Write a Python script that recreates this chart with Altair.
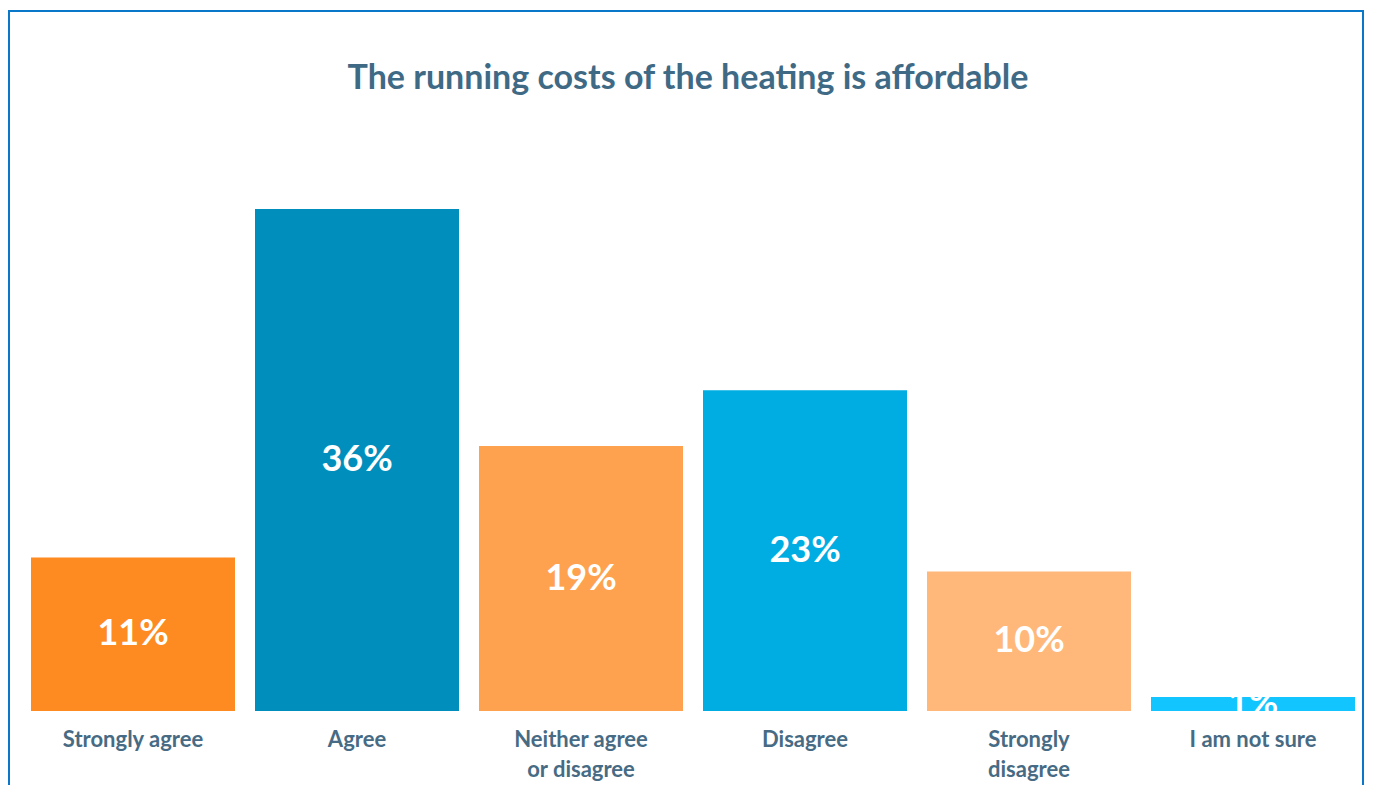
import altair as alt
import pandas as pd

categories = ["Strongly agree", "Agree", "Neither agree\nor disagree", "Disagree", "Strongly\ndisagree", "I am not sure"]
values = [11, 36, 19, 23, 10, 1]
bar_colors = ["#FE8A22", "#008FBC", "#FFA24F", "#00ADE3", "#FFB879", "#12C5FF"]
title_text = ["The running costs of the heating is affordable"]

df = pd.DataFrame({"category": categories, "value": values})

FONT = "Lato"
TITLE_COLOR = "#3F6A86"
LABEL_COLOR = "#476B84"

x_enc = alt.X(
    "category:N",
    sort=categories,
    scale=alt.Scale(paddingInner=20 / 224, paddingOuter=10 / 224),
    axis=alt.Axis(
        title=None, domain=False, ticks=False, grid=False,
        labelExpr="split(datum.label, '\\n')",
        labelFont=FONT, labelFontSize=22, labelFontWeight="bold",
        labelColor=LABEL_COLOR, labelPadding=18, labelLineHeight=30,
        labelAngle=0,
    ),
)
y_scale = alt.Scale(domain=[0, 36], nice=False, zero=True)

bars = alt.Chart(df).mark_bar().encode(
    x=x_enc,
    y=alt.Y("value:Q", scale=y_scale, axis=None),
    color=alt.Color("category:N", sort=categories,
                    scale=alt.Scale(domain=categories, range=bar_colors), legend=None),
)

labels = alt.Chart(df).transform_calculate(
    mid="datum.value / 2", label="datum.value + '%'"
).mark_text(
    font=FONT, fontSize=36, fontWeight="bold", color="white", baseline="middle", align="center"
).encode(
    x=alt.X("category:N", sort=categories),
    y=alt.Y("mid:Q", scale=y_scale),
    text="label:N",
)

title = alt.Chart(pd.DataFrame({"t": title_text})).mark_text(
    font=FONT, fontSize=34, fontWeight="bold", color=TITLE_COLOR, baseline="middle", align="center"
).encode(
    x=alt.value(667), y=alt.value(-130), text="t:N"
)

frame = alt.Chart(pd.DataFrame({"a": [0]})).mark_rect(
    fill=None, fillOpacity=0, stroke="#0A78C8", strokeWidth=2
).encode(
    x=alt.value(-12), x2=alt.value(1342), y=alt.value(-198), y2=alt.value(600)
)

chart = alt.layer(frame, bars, labels, title).properties(
    width=1344, height=502,
    background="white",
    autosize=alt.AutoSizeParams(type="none"),
    padding={"left": 13, "top": 201, "right": 0, "bottom": 74},
).configure_view(stroke="transparent", strokeWidth=0)

chart.save("out.html", embed_options={"renderer": "svg", "actions": False})
